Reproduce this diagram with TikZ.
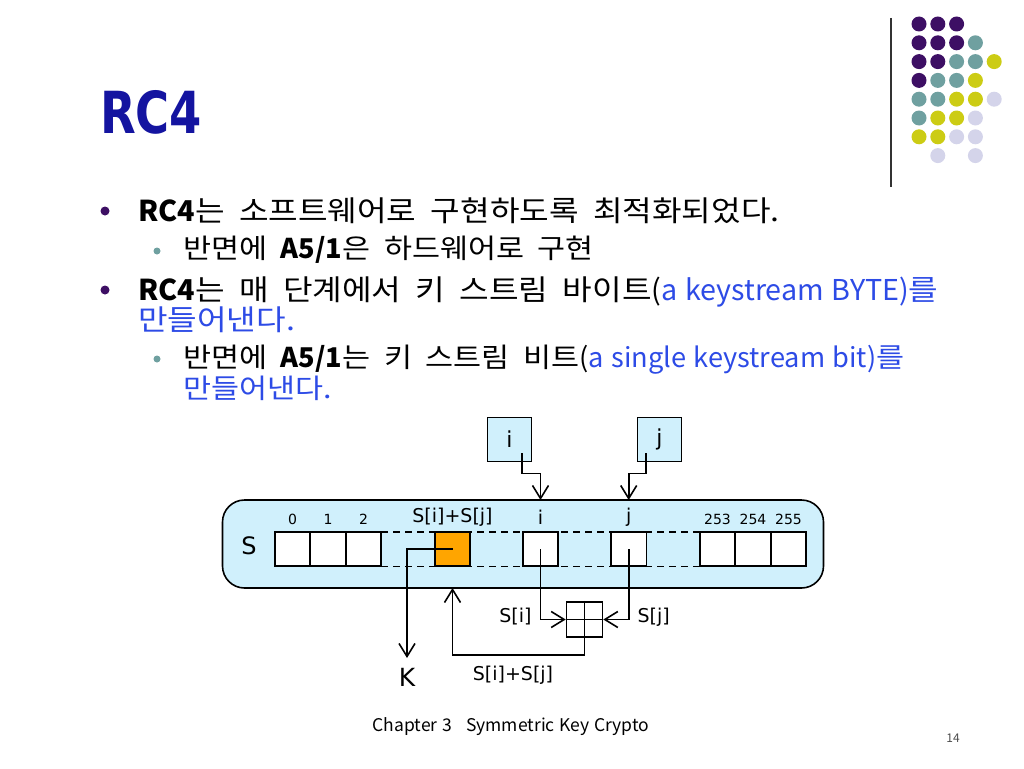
\documentclass[tikz,border=0pt]{standalone}
\usepackage{fontspec}
\usepackage{graphicx}
\setmainfont{Noto Sans CJK KR}[FakeStretch=1.12, WordSpace=2.0]
\newfontfamily\latfont{Noto Sans CJK KR}[WordSpace=1.2]
\newfontfamily\diafont{DejaVu Sans}
\newfontfamily\titlefont{DejaVu Sans}
\usetikzlibrary{arrows.meta}
\definecolor{titleblue}{RGB}{20,20,160}
\definecolor{textblue}{RGB}{45,75,230}
\definecolor{dotpurple}{RGB}{61,15,100}
\definecolor{dotteal}{RGB}{111,160,160}
\definecolor{dotyellow}{RGB}{204,204,20}
\definecolor{dotlav}{RGB}{212,212,234}
\definecolor{boxblue}{RGB}{208,240,252}
\definecolor{cellorange}{RGB}{255,165,0}

\begin{document}
\begin{tikzpicture}[x=1pt,y=-1pt,
    cell/.style={draw, line width=1.6pt, fill=white, minimum width=35.5pt, minimum height=34.5pt, inner sep=0pt},
    varbox/.style={draw, line width=1.6pt, fill=boxblue, minimum width=44pt, minimum height=44pt, inner sep=0pt, font=\diafont\fontsize{22}{24}\selectfont},
    idx/.style={font=\diafont\fontsize{14}{16}\selectfont},
    lbl/.style={font=\diafont\fontsize{19}{22}\selectfont},
    flow/.style={line width=1.6pt, -{Straight Barb[length=13pt,width=16pt,line width=1.6pt]}},
    line/.style={anchor=base west, inner sep=0pt, font=\fontsize{28.7}{32}\selectfont},
    subline/.style={anchor=base west, inner sep=0pt, font=\fontsize{27.2}{31}\selectfont}]
    \useasboundingbox (0,0) rectangle (1024,768);

    % title and corner decoration
    \node[anchor=base west, inner sep=0pt, text=titleblue, font=\titlefont\bfseries\fontsize{58}{60}\selectfont] (title) at (100,133) {\scalebox{0.8}[1]{RC4}};
    \draw[line width=1.2pt, black!80] (891,18) -- (891,187);
    \foreach \c/\r/\col in {0/0/dotpurple,1/0/dotpurple,2/0/dotpurple,
        0/1/dotpurple,1/1/dotpurple,2/1/dotpurple,3/1/dotteal,
        0/2/dotpurple,1/2/dotpurple,2/2/dotteal,3/2/dotteal,4/2/dotyellow,
        0/3/dotpurple,1/3/dotteal,2/3/dotteal,3/3/dotyellow,
        0/4/dotteal,1/4/dotteal,2/4/dotyellow,3/4/dotyellow,4/4/dotlav,
        0/5/dotteal,1/5/dotyellow,2/5/dotyellow,3/5/dotlav,
        0/6/dotyellow,1/6/dotyellow,2/6/dotlav,3/6/dotlav,
        1/7/dotlav,3/7/dotlav}
        \fill[\col] (919+18.8*\c,24+18.8*\r) circle (7.5pt);

    % bullets
    \fill[dotpurple] (105,211) circle (4.5pt);
    \fill[dotpurple] (105,290) circle (4.5pt);
    \fill[dotteal] (157,251) circle (3.5pt);
    \fill[dotteal] (157,359) circle (3.5pt);
    \node[line] (l1) at (138,221) {{\latfont\bfseries RC4}는 소프트웨어로 구현하도록 최적화되었다.};
    \node[subline] (l2) at (183,258) {반면에 {\latfont\bfseries A5/1}은 하드웨어로 구현};
    \node[line] (l3) at (138,300) {{\latfont\bfseries RC4}는 매 단계에서 키 스트림 바이트{\latfont(}\textcolor{textblue}{{\latfont a keystream BYTE)}를}};
    \node[line, text=textblue] (l3b) at (138,330) {만들어낸다.};
    \node[subline] (l4) at (183,367) {반면에 {\latfont\bfseries A5/1}는 키 스트림 비트{\latfont(}\textcolor{textblue}{{\latfont a single keystream bit)}를}};
    \node[subline, text=textblue] (l4b) at (183,398) {만들어낸다.};

    % state array
    \draw[line width=1.6pt, fill=boxblue, rounded corners=22pt] (222.5,500) rectangle (823.5,588);
    \draw[line width=1.6pt, dash pattern=on 7pt off 5pt] (381,531.7) -- (700,531.7);
    \draw[line width=1.6pt, dash pattern=on 7pt off 5pt] (381,566.3) -- (700,566.3);
    \node[font=\diafont\fontsize{24}{28}\selectfont] (S) at (249,546) {S};
    \node[cell] (c0) at (292.5,549) {};
    \node[cell] (c1) at (328,549) {};
    \node[cell] (c2) at (363.5,549) {};
    \node[cell, fill=cellorange] (ck) at (452.5,549) {};
    \node[cell] (ci) at (540.5,549) {};
    \node[cell] (cj) at (628.7,549) {};
    \node[cell] (c253) at (717.5,549) {};
    \node[cell] (c254) at (753,549) {};
    \node[cell] (c255) at (788.5,549) {};
    \node[idx] at (292.5,519) {0};
    \node[idx] at (328,519) {1};
    \node[idx] at (363.5,519) {2};
    \node[lbl] at (452.5,517) {S[i]+S[j]};
    \node[lbl] at (540.5,517) {i};
    \node[lbl] at (628.7,517) {j};
    \node[idx] at (717.5,519) {253};
    \node[idx] at (753,519) {254};
    \node[idx] at (788.5,519) {255};

    % index registers
    \node[varbox] (vi) at (509.5,439.5) {i};
    \node[varbox] (vj) at (659.5,439.5) {j};
    \coordinate (ti) at (540.5,500);
    \coordinate (tj) at (628.7,500);
    \draw[flow] (522,453) |- (540.5,473.5) -- (ti);
    \draw[flow] (646,453) |- (628.7,473.5) -- (tj);

    % adder
    \node[draw, line width=1.6pt, fill=white, minimum width=36pt, minimum height=35.5pt, inner sep=0pt] (add) at (584.5,619.5) {};
    \draw[line width=1.6pt] (add.north) -- (add.south);
    \draw[line width=1.6pt] (add.west) -- (add.east);
    \draw[flow] (ci.center) |- (add.west);
    \draw[flow] (cj.center) |- (add.east);
    \node[lbl, anchor=east] (si) at (535,617) {S[i]};
    \node[lbl, anchor=west] (sj) at (634,617) {S[j]};
    \coordinate (back) at (452.5,588);
    \draw[flow] (add.center) |- (452.5,655) -- (back);
    \node[lbl] (sum) at (513,675) {S[i]+S[j]};

    % keystream output
    \node[font=\diafont\fontsize{25}{28}\selectfont] (K) at (407,677) {K};
    \draw[flow] (ck.center) -| (407,658);

    % footer
    \node[font=\latfont\fontsize{17.5}{20}\selectfont] (foot) at (511,727) {Chapter 3\hspace{14pt}Symmetric Key Crypto};
    \node[font=\latfont\fontsize{12}{14}\selectfont, text=black!70] (page) at (953,738) {14};
\end{tikzpicture}
\end{document}
